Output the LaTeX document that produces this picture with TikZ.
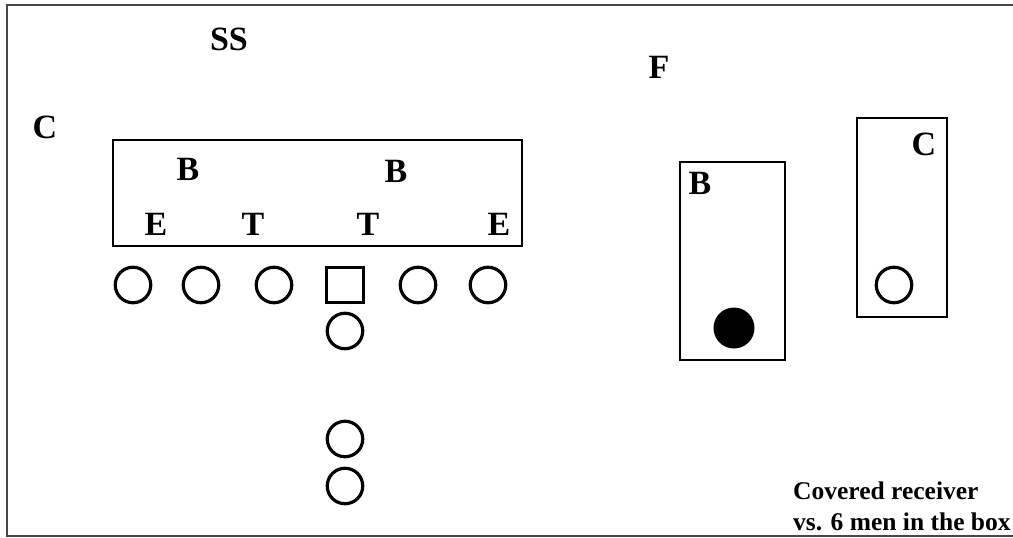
\documentclass[tikz,border=0pt]{standalone}
\usepackage{fontspec}
\setmainfont{Liberation Serif}
\begin{document}
\begin{tikzpicture}[x=1pt, y=-1pt,
	letter/.style={inner sep=0pt, font=\fontsize{34}{34}\selectfont\bfseries},
	player/.style={circle, draw, line width=3.2pt, minimum size=35.5pt, inner sep=0pt},
	center/.style={rectangle, draw, line width=2.8pt, minimum width=37pt, minimum height=35pt, inner sep=0pt},
	zone/.style={draw, line width=2pt},
	note/.style={inner sep=0pt, anchor=base west, font=\fontsize{25.5}{25.5}\selectfont\bfseries}]
	\useasboundingbox (0,0) rectangle (1013,538);
	% frame, open on the right
	\draw[line width=2.5pt, black!72] (1013,5) -- (7,5) -- (7,536) -- (1013,536);
	
	% defense, left side
	\node[letter] (ss) at (229,39) {SS};
	\node[letter] (cl) at (45,127) {C};
	\draw[zone] (113,140) rectangle (522,246);
	\node[letter] (b1) at (188,169) {B};
	\node[letter] (b2) at (396,171) {B};
	\node[letter] (e1) at (156,224) {E};
	\node[letter] (t1) at (253,224) {T};
	\node[letter] (t2) at (368,224) {T};
	\node[letter] (e2) at (499,224) {E};
	
	% offense
	\node[player] (o1) at (133,285) {};
	\node[player] (o2) at (201,285) {};
	\node[player] (o3) at (274,285) {};
	\node[center] (ctr) at (345,285) {};
	\node[player] (o5) at (418,285) {};
	\node[player] (o6) at (488,285) {};
	\node[player] (qb) at (345,331) {};
	\node[player] (hb1) at (345,439) {};
	\node[player] (hb2) at (345,486) {};
	
	% right side
	\node[letter] (fs) at (659,67) {F};
	\draw[zone] (680,162) rectangle (785,360);
	\node[letter] (b3) at (700,183) {B};
	\node[circle, fill=black, minimum size=41pt, inner sep=0pt] (ball) at (734,328) {};
	\draw[zone] (857,118) rectangle (947,317);
	\node[letter] (cr) at (924,144) {C};
	\node[player] (wr) at (894,285) {};
	
	\node[note] (cap1) at (793,499) {Covered receiver};
	\node[note] (cap2) at (793,530) {vs. 6 men in the box};
\end{tikzpicture}
\end{document}
